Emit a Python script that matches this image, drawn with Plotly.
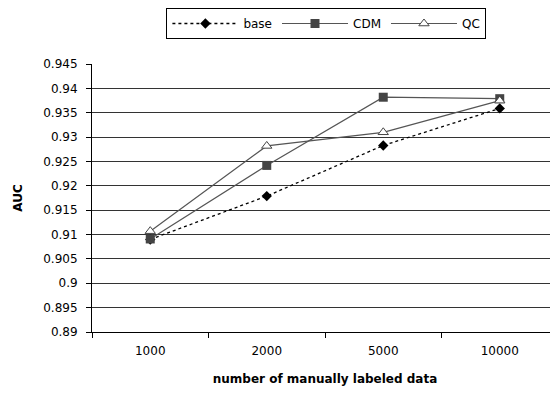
import plotly.graph_objects as go

categories = ["1000", "2000", "5000", "10000"]
base = [0.909, 0.9179, 0.9283, 0.9359]
cdm = [0.9091, 0.9242, 0.9382, 0.9379]
qc = [0.9107, 0.9282, 0.9310, 0.9375]
y_ticks = [0.89, 0.895, 0.9, 0.905, 0.91, 0.915, 0.92, 0.925, 0.93, 0.935, 0.94, 0.945]
y_ticktext = ["0.89", "0.895", "0.9", "0.905", "0.91", "0.915", "0.92", "0.925", "0.93", "0.935", "0.94", "0.945"]

FONT = "DejaVu Sans, Arial, sans-serif"

fig = go.Figure()
fig.add_trace(go.Scatter(
    x=categories, y=base, name="base", mode="lines+markers",
    line=dict(color="#000000", width=1.3, dash="dot"),
    marker=dict(symbol="diamond", size=8, color="#000000"),
))
fig.add_trace(go.Scatter(
    x=categories, y=cdm, name="CDM", mode="lines+markers",
    line=dict(color="#555555", width=1.2),
    marker=dict(symbol="square", size=9, color="#444444"),
))
fig.add_trace(go.Scatter(
    x=categories, y=qc, name="QC", mode="lines+markers",
    line=dict(color="#555555", width=1.2),
    marker=dict(symbol="triangle-up", size=9, color="#ffffff",
                line=dict(color="#444444", width=1)),
))

fig.update_layout(
    width=550, height=378,
    margin=dict(l=84, r=0, t=56, b=54),
    paper_bgcolor="white", plot_bgcolor="white",
    font=dict(family=FONT, size=12, color="#000000"),
    showlegend=True,
    legend=dict(
        orientation="h", x=0.503, xanchor="center", y=1.209, yanchor="top",
        bordercolor="#000000", borderwidth=1, bgcolor="white",
        font=dict(family=FONT, size=12),
        itemwidth=66,
    ),
    xaxis=dict(
        type="category", range=[-0.5, 3.5],
        showline=True, linecolor="#000000", linewidth=1,
        ticks="outside", ticklen=5, tickcolor="#000000", tickson="boundaries",
        showgrid=False, zeroline=False,
        tickfont=dict(family=FONT, size=12),
        ticklabelstandoff=8,
        title=dict(text="<b>number of manually labeled data</b>",
                   font=dict(family=FONT, size=12), standoff=17),
    ),
    yaxis=dict(
        range=[0.89, 0.94502],
        tickvals=y_ticks, ticktext=y_ticktext,
        showline=True, linecolor="#000000", linewidth=1,
        ticks="outside", ticklen=5, tickcolor="#000000",
        showgrid=True, gridcolor="#333333", gridwidth=1, zeroline=False,
        tickfont=dict(family=FONT, size=12),
        ticklabelstandoff=6,
        title=dict(text="<b>AUC</b>", font=dict(family=FONT, size=12), standoff=18),
    ),
)

fig.write_html("out.html")
